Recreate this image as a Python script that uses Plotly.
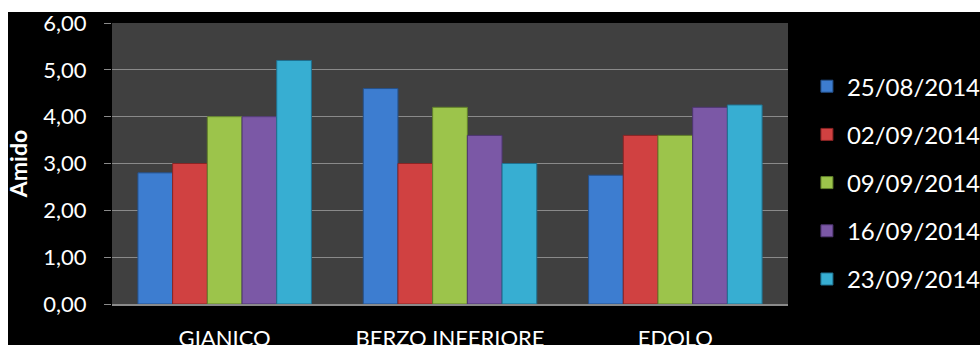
import plotly.graph_objects as go

# Starch index (Amido) per site and sampling date
sites = ["GIANICO", "BERZO INFERIORE", "EDOLO"]
dates = ["25/08/2014", "02/09/2014", "09/09/2014", "16/09/2014", "23/09/2014"]
amido_2508 = [2.8, 4.6, 2.75]
amido_0209 = [3.0, 3.0, 3.6]
amido_0909 = [4.0, 4.2, 3.6]
amido_1609 = [4.0, 3.6, 4.2]
amido_2309 = [5.2, 3.0, 4.25]
series = [amido_2508, amido_0209, amido_0909, amido_1609, amido_2309]

fills = ["#3d7dd0", "#d04141", "#9cc44b", "#7b58a6", "#37aed2"]
edges = ["#24508a", "#8a2424", "#61802a", "#4d3570", "#1f7190"]

FONT = "Lato, 'DejaVu Sans', sans-serif"

fig = go.Figure()
for name, vals, fc, ec in zip(dates, series, fills, edges):
    fig.add_trace(go.Bar(
        x=sites, y=vals, name=name, legendgroup=name,
        marker=dict(color=fc, line=dict(color=ec, width=1)),
    ))

fig.update_layout(
    width=980, height=345,
    margin=dict(l=112, r=192, t=23, b=41, autoexpand=False),
    paper_bgcolor="#000000",
    plot_bgcolor="#404040",
    barmode="group", bargap=0.23, bargroupgap=0,
    separators=",.",
    showlegend=True,
    legend=dict(
        x=1.028, xanchor="left", y=0.432, yanchor="middle",
        font=dict(family=FONT, size=24, color="#ffffff"),
        bgcolor="rgba(0,0,0,0)",
        traceorder="grouped", tracegroupgap=14,
    ),
    font=dict(family=FONT, color="#ffffff"),
    shapes=[
        # white page strips around the dark chart frame
        dict(type="rect", xref="paper", yref="paper",
             x0=-0.5, x1=2, y0=(304 - 12) / 281, y1=1.5,
             fillcolor="#ffffff", line=dict(width=0), layer="above"),
        dict(type="rect", xref="paper", yref="paper",
             x0=-0.5, x1=(8 - 112) / 676, y0=-0.5, y1=1.5,
             fillcolor="#ffffff", line=dict(width=0), layer="above"),
    ],
)

fig.update_yaxes(
    range=[0, 6], dtick=1, tickformat=".2f", automargin=False,
    showgrid=True, gridcolor="#8a8a8a", gridwidth=1,
    zeroline=False, showline=False,
    ticks="outside", ticklen=7, tickcolor="#8a8a8a",
    ticklabelstandoff=13,
    tickfont=dict(family=FONT, size=22, color="#ffffff"),
    title=dict(text="<b>Amido</b>", standoff=9,
               font=dict(family=FONT, size=23, color="#ffffff")),
)
fig.update_xaxes(
    automargin=False,
    showgrid=False, showline=True, linecolor="#8a8a8a", linewidth=1.5,
    ticks="outside", ticklen=14, tickcolor="rgba(0,0,0,0)",
    tickfont=dict(family=FONT, size=22, color="#ffffff"),
)

fig.write_html("out.html")
